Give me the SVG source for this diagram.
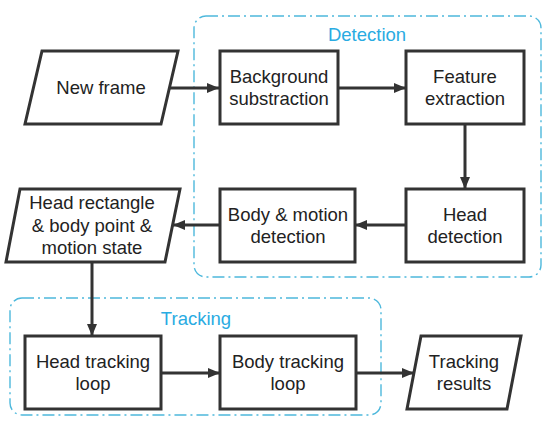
<svg xmlns="http://www.w3.org/2000/svg" width="550" height="428" viewBox="0 0 550 428">
<style>
.n{fill:#fff;stroke:#333;stroke-width:3;stroke-linejoin:miter}
.t{font-family:"Liberation Sans",Arial,sans-serif;font-size:18.5px;fill:#222;text-anchor:middle}
.g{fill:none;stroke:#4db8dc;stroke-width:1.4;stroke-dasharray:12 4 2 4}
.gl{font-family:"Liberation Sans",Arial,sans-serif;font-size:18.5px;fill:#29abe2;text-anchor:middle}
.c{fill:none;stroke:#333;stroke-width:3;marker-end:url(#ah)}
</style>
<defs>
<marker id="ah" viewBox="0 0 12 10" refX="12" refY="5" markerWidth="12" markerHeight="11" markerUnits="userSpaceOnUse" orient="auto">
<path d="M0,0 L12,5 L0,10 Z" fill="#333"/>
</marker>
</defs>
<rect width="550" height="428" fill="#fff"/>
<g id="group-detection">
<rect class="g" x="194" y="16" width="347" height="261" rx="12"/>
<text class="gl" x="367" y="41">Detection</text>
</g>
<g id="group-tracking">
<rect class="g" x="10" y="298" width="371" height="117" rx="12"/>
<text class="gl" x="196" y="325">Tracking</text>
</g>
<g id="connectors">
<line class="c" x1="169" y1="88" x2="219" y2="88"/>
<line class="c" x1="338" y1="88" x2="406" y2="88"/>
<line class="c" x1="465" y1="124" x2="465" y2="189"/>
<line class="c" x1="406" y1="225" x2="355" y2="225"/>
<line class="c" x1="220" y1="225" x2="173" y2="225"/>
<line class="c" x1="92" y1="262" x2="92" y2="336"/>
<line class="c" x1="161" y1="373" x2="220" y2="373"/>
<line class="c" x1="356" y1="373" x2="414" y2="373"/>
</g>
<g id="new-frame">
<polygon class="n" points="42,51 178,51 161,124 25,124"/>
<text class="t" x="101" y="94">New frame</text>
</g>
<g id="background-substraction">
<rect class="n" x="220" y="51" width="118" height="73"/>
<text class="t" x="279" y="83">Background</text>
<text class="t" x="279" y="105">substraction</text>
</g>
<g id="feature-extraction">
<rect class="n" x="406" y="51" width="118" height="73"/>
<text class="t" x="465" y="83">Feature</text>
<text class="t" x="465" y="105">extraction</text>
</g>
<g id="head-detection">
<rect class="n" x="406" y="189" width="118" height="73"/>
<text class="t" x="465" y="221">Head</text>
<text class="t" x="465" y="243">detection</text>
</g>
<g id="body-motion-detection">
<rect class="n" x="220" y="189" width="135" height="73"/>
<text class="t" x="288" y="221">Body &amp; motion</text>
<text class="t" x="288" y="243">detection</text>
</g>
<g id="head-rectangle">
<polygon class="n" points="20,189 180,189 165,262 6,262"/>
<text class="t" x="92" y="209">Head rectangle</text>
<text class="t" x="92" y="232">&amp; body point &amp;</text>
<text class="t" x="92" y="254">motion state</text>
</g>
<g id="head-tracking-loop">
<rect class="n" x="25" y="336" width="136" height="73"/>
<text class="t" x="93" y="368">Head tracking</text>
<text class="t" x="93" y="390">loop</text>
</g>
<g id="body-tracking-loop">
<rect class="n" x="220" y="336" width="136" height="73"/>
<text class="t" x="288" y="368">Body tracking</text>
<text class="t" x="288" y="390">loop</text>
</g>
<g id="tracking-results">
<polygon class="n" points="421,336 521,336 507,409 407,409"/>
<text class="t" x="464" y="368">Tracking</text>
<text class="t" x="464" y="390">results</text>
</g>
</svg>
